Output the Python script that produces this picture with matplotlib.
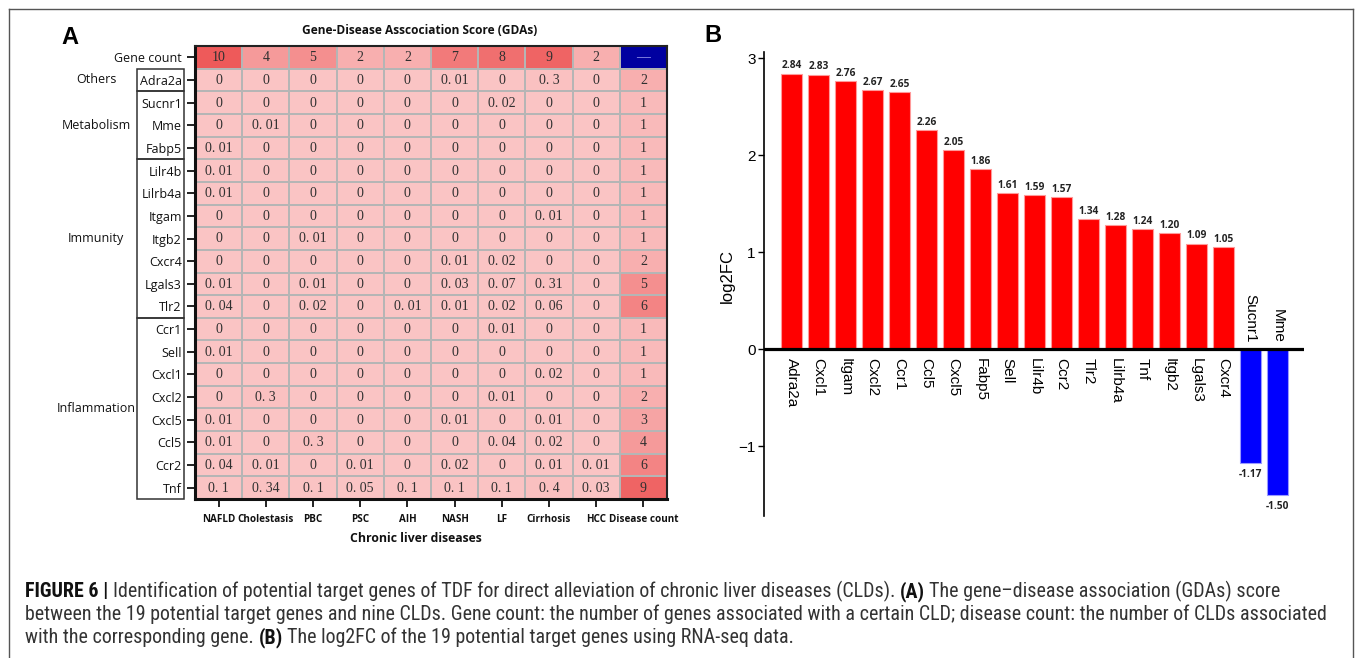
import numpy as np
import matplotlib
matplotlib.use("Agg")
import matplotlib.pyplot as plt
from matplotlib.colors import LinearSegmentedColormap
from matplotlib.patches import Rectangle
from matplotlib.lines import Line2D
from matplotlib.transforms import blended_transform_factory
from matplotlib import font_manager as fm

plt.rcParams['font.family'] = ['Liberation Sans', 'DejaVu Sans']

# ---------------- data ----------------
diseases = ["NAFLD", "Cholestasis", "PBC", "PSC", "AIH", "NASH", "LF", "Cirrhosis", "HCC"]
gene_count = [10, 4, 5, 2, 2, 7, 8, 9, 2]
heat_genes = ["Adra2a", "Sucnr1", "Mme", "Fabp5", "Lilr4b", "Lilrb4a", "Itgam", "Itgb2",
              "Cxcr4", "Lgals3", "Tlr2", "Ccr1", "Sell", "Cxcl1", "Cxcl2", "Cxcl5",
              "Ccl5", "Ccr2", "Tnf"]
gda_scores = [
    [0, 0, 0, 0, 0, 0.01, 0, 0.3, 0],
    [0, 0, 0, 0, 0, 0, 0.02, 0, 0],
    [0, 0.01, 0, 0, 0, 0, 0, 0, 0],
    [0.01, 0, 0, 0, 0, 0, 0, 0, 0],
    [0.01, 0, 0, 0, 0, 0, 0, 0, 0],
    [0.01, 0, 0, 0, 0, 0, 0, 0, 0],
    [0, 0, 0, 0, 0, 0, 0, 0.01, 0],
    [0, 0, 0.01, 0, 0, 0, 0, 0, 0],
    [0, 0, 0, 0, 0, 0.01, 0.02, 0, 0],
    [0.01, 0, 0.01, 0, 0, 0.03, 0.07, 0.31, 0],
    [0.04, 0, 0.02, 0, 0.01, 0.01, 0.02, 0.06, 0],
    [0, 0, 0, 0, 0, 0, 0.01, 0, 0],
    [0.01, 0, 0, 0, 0, 0, 0, 0, 0],
    [0, 0, 0, 0, 0, 0, 0, 0.02, 0],
    [0, 0.3, 0, 0, 0, 0, 0.01, 0, 0],
    [0.01, 0, 0, 0, 0, 0.01, 0, 0.01, 0],
    [0.01, 0, 0.3, 0, 0, 0, 0.04, 0.02, 0],
    [0.04, 0.01, 0, 0.01, 0, 0.02, 0, 0.01, 0.01],
    [0.1, 0.34, 0.1, 0.05, 0.1, 0.1, 0.1, 0.4, 0.03],
]
disease_count = [2, 1, 1, 1, 1, 1, 1, 1, 2, 5, 6, 1, 1, 1, 2, 3, 4, 6, 9]
groups = ["Others", "Metabolism", "Immunity", "Inflammation"]
group_sizes = [1, 3, 7, 8]

bar_genes = ["Adra2a", "Cxcl1", "Itgam", "Cxcl2", "Ccr1", "Ccl5", "Cxcl5", "Fabp5", "Sell",
             "Lilr4b", "Ccr2", "Tlr2", "Lilrb4a", "Tnf", "Itgb2", "Lgals3", "Cxcr4",
             "Sucnr1", "Mme"]
log2fc = [2.84, 2.83, 2.76, 2.67, 2.65, 2.26, 2.05, 1.86, 1.61, 1.59, 1.57, 1.34, 1.28,
          1.24, 1.20, 1.09, 1.05, -1.17, -1.50]

title_A = "Gene-Disease Asscociation Score (GDAs)"
xlabel_A = "Chronic liver diseases"
ylabel_B = "log2FC"
caption_lines = [
    [("FIGURE 6 |", True),
     ("Identification of potential target genes of TDF for direct alleviation of chronic liver diseases (CLDs).", False),
     ("(A)", True), ("The gene\u2013disease association (GDAs) score", False)],
    [("between the 19 potential target genes and nine CLDs. Gene count: the number of genes associated with a certain CLD; disease count: the number of CLDs associated", False)],
    [("with the corresponding gene.", False), ("(B)", True),
     ("The log2FC of the 19 potential target genes using RNA-seq data.", False)],
]

# ---------------- figure ----------------
W, H = 1357, 658
fig = plt.figure(figsize=(W / 100, H / 100), dpi=100)


def px_axes(l, t, r, b):
    return fig.add_axes([l / W, 1 - b / H, (r - l) / W, (b - t) / H])


SANS_UI = ['Open Sans', 'DejaVu Sans']
SERIF = ['Liberation Serif', 'DejaVu Serif']

# ---------------- Panel A: heatmap ----------------
axA = px_axes(195, 46, 667, 499)
n_rows = len(heat_genes) + 1
n_cols = len(diseases) + 1
M = np.zeros((n_rows, n_cols))
M[0, :len(diseases)] = gene_count
M[1:, :len(diseases)] = np.array(gda_scores)
M[1:, len(diseases)] = disease_count
mask = np.zeros_like(M, dtype=bool)
mask[0, -1] = True
Mm = np.ma.masked_array(M, mask=mask)

cmap = LinearSegmentedColormap.from_list('gda', ['#FAC4C4', '#EE5A5A'])
cmap.set_bad('#0000A0')
axA.pcolormesh(np.arange(n_cols + 1), np.arange(n_rows + 1), Mm, cmap=cmap,
               vmin=0, vmax=10, edgecolors='#B5B5B5', linewidth=1.3)
axA.set_xlim(0, n_cols)
axA.set_ylim(n_rows, 0)


def fmt_score(v):
    s = ("%g" % v)
    return s.replace(".", ". ")


for r in range(n_rows):
    for c in range(n_cols):
        if r == 0 and c == n_cols - 1:
            txt, col = "\u2014", '#A0A0F0'
        elif r == 0 or c == n_cols - 1:
            txt, col = str(int(M[r, c])), '#303030'
        else:
            txt, col = fmt_score(M[r, c]), '#303030'
        axA.text(c + 0.5, r + 0.52, txt, ha='center', va='center', fontsize=10,
                 family=SERIF, color=col)

axA.set_yticks(np.arange(n_rows) + 0.5)
axA.set_yticklabels(["Gene count"] + heat_genes, fontsize=9, family=SANS_UI, color='#111')
axA.set_xticks(np.arange(n_cols) + 0.5)
axA.set_xticklabels(diseases + ["Disease count"], fontsize=7.1, family=SANS_UI,
                    fontweight='bold', color='#111')
axA.tick_params(axis='y', length=5.5, width=1.3, pad=4, color='#111')
axA.tick_params(axis='x', length=5.5, width=1.3, pad=5, color='#111')
for side in ['left', 'bottom']:
    axA.spines[side].set_linewidth(2.2)
    axA.spines[side].set_color('#111')
for side in ['top', 'right']:
    axA.spines[side].set_linewidth(1.5)
    axA.spines[side].set_color('#222')

transA = blended_transform_factory(axA.transAxes, axA.transData)
box_x0 = (137 - 195) / 472
box_w = (184 - 137) / 472
lab_x = (96 - 195) / 472
start = 1
for g, n in zip(groups, group_sizes):
    axA.add_patch(Rectangle((box_x0, start), box_w, n, transform=transA, fill=False,
                            lw=1.1, ec='#333', clip_on=False))
    axA.text(lab_x, start + n / 2, g, transform=transA, ha='center', va='center',
             fontsize=9, family=SANS_UI, color='#111')
    start += n

fig.text(420 / W, 1 - 30 / H, title_A, ha='center', va='center', fontsize=8.6,
         family=SANS_UI, fontweight='bold', color='#111')
fig.text(416 / W, 1 - 538 / H, xlabel_A, ha='center', va='center', fontsize=8.8,
         family=SANS_UI, fontweight='bold', color='#111')

# ---------------- Panel B: bars ----------------
axB = px_axes(764, 52.2, 1304, 516.4)
xb = np.arange(len(bar_genes))
vals = np.array(log2fc)
colors = ['#FF0000' if v > 0 else '#0000FF' for v in vals]
edges = ['#FF9A9A' if v > 0 else '#9A9AFF' for v in vals]
axB.bar(xb, vals, width=0.78, color=colors, edgecolor=edges, linewidth=0.8, zorder=2)
axB.set_xlim(-1.02, 18.98)
axB.set_ylim(-1.72, 3.06)
axB.axhline(0, color='black', lw=2.3, zorder=3)
for side in ['top', 'right', 'bottom']:
    axB.spines[side].set_visible(False)
axB.spines['left'].set_linewidth(1.2)
axB.set_xticks([])
axB.set_yticks([-1, 0, 1, 2, 3])
axB.tick_params(axis='y', length=4, width=1.0, labelsize=11, pad=2)
for i, (g, v) in enumerate(zip(bar_genes, vals)):
    if v > 0:
        axB.annotate(g, (i, 0), xytext=(0, -6), textcoords='offset points', rotation=270,
                     ha='center', va='top', fontsize=11)
        axB.annotate("%.2f" % v, (i, v), xytext=(0, 1.5), textcoords='offset points',
                     ha='center', va='bottom', fontsize=7.3, fontweight='bold',
                     family=SANS_UI, color='#222')
    else:
        axB.annotate(g, (i, 0), xytext=(0, 5), textcoords='offset points', rotation=270,
                     ha='center', va='bottom', fontsize=11)
        axB.annotate("%.2f" % v, (i, v), xytext=(0, -4), textcoords='offset points',
                     ha='center', va='top', fontsize=7.3, fontweight='bold',
                     family=SANS_UI, color='#222')
fig.text(727 / W, 1 - 276 / H, ylabel_B, rotation=90, ha='center', va='center', fontsize=12)

# panel letters
fig.text(70 / W, 1 - 38 / H, "A", ha='center', va='center', fontsize=17, fontweight='bold')
fig.text(713 / W, 1 - 36 / H, "B", ha='center', va='center', fontsize=17, fontweight='bold')

# outer frame
fc = '#555555'
fig.add_artist(Line2D([9 / W, 1353 / W], [1 - 9 / H, 1 - 9 / H], color=fc, lw=1.0))
fig.add_artist(Line2D([9 / W, 9 / W], [1 - 9 / H, -0.05], color=fc, lw=1.0))
fig.add_artist(Line2D([1353 / W, 1353 / W], [1 - 9 / H, -0.05], color=fc, lw=1.0))

# ---------------- caption ----------------
names = {f.name for f in fm.fontManager.ttflist}
cap_family = None
for cand in ['Liberation Sans Narrow', 'Roboto Condensed', 'Open Sans Condensed',
             'Noto Sans Condensed', 'DejaVu Sans Condensed']:
    if cand in names:
        cap_family = cand
        break
if cap_family is None:
    cap_family = 'Roboto'
cap_fam = [cap_family, 'DejaVu Sans']

fig.canvas.draw()
renderer = fig.canvas.get_renderer()


def tw(s, size, bold):
    t = fig.text(0, 0, s, fontsize=size, family=cap_fam, fontweight='bold' if bold else 'normal')
    w = t.get_window_extent(renderer).width
    t.remove()
    return w


base = 11.0
w_line2 = tw(caption_lines[1][0][0], base, False)
cap_size = base * (1323 - 25) / w_line2
space_w = tw("a a", cap_size, False) - tw("aa", cap_size, False)
baselines = [597, 620, 643]
for pieces, yb in zip(caption_lines, baselines):
    x = 25.0
    for k, (s, bold) in enumerate(pieces):
        t = fig.text(x / W, 1 - yb / H, s, fontsize=cap_size, family=cap_fam,
                     fontweight='bold' if bold else 'normal',
                     color='#111' if bold else '#333333', va='baseline', ha='left')
        x += t.get_window_extent(renderer).width + space_w

fig.savefig("out.png", dpi=100)
